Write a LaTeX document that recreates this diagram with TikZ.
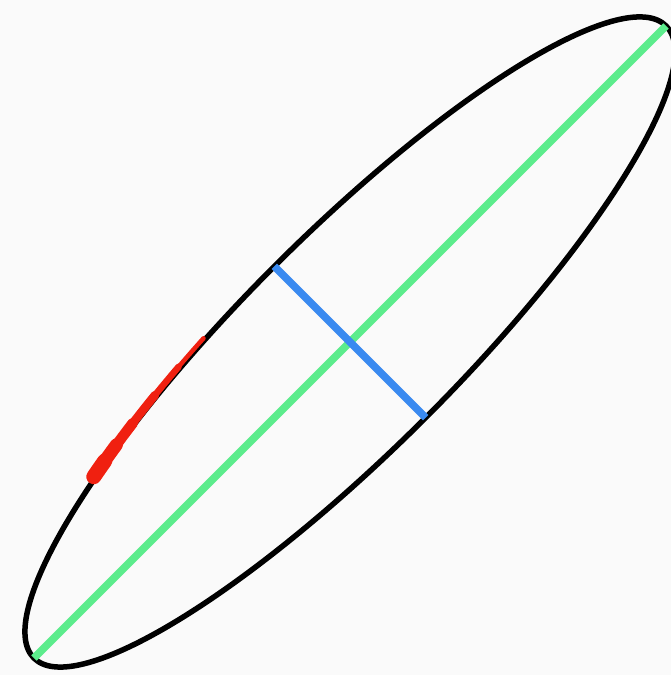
\documentclass[tikz,border=0pt]{standalone}
\usepackage{tikz}
\definecolor{majgreen}{RGB}{92,236,140}
\definecolor{minblue}{RGB}{58,138,240}
\definecolor{arcred}{RGB}{240,32,16}
\tikzset{
  rim/.style={line width=0.11cm,color=black},
  majline/.style={line width=0.15cm,color=majgreen},
  minline/.style={line width=0.15cm,color=minblue},
  redarc/.style={color=arcred,line cap=round}
}
\begin{document}
\begin{tikzpicture}[x=0.02cm,y=0.02cm]
        \useasboundingbox[fill=white!98!black] (0,0) rectangle (671,675);
        \coordinate (c) at (350,333);
        \begin{scope}[shift={(c)},rotate=45]
                \coordinate (majA) at (-447,0);
                \coordinate (majB) at (447,0);
                \coordinate (minA) at (0,107);
                \coordinate (minB) at (0,-107);
                \draw[rim] (0,0) ellipse [x radius=447, y radius=107];
                \draw[majline] (majA) -- (majB);
                \draw[minline] (minA) -- (minB);
                % red stroke, thicker at its lower end
                \foreach \e/\w in {103/0.09,108/0.13,113/0.17,118/0.21,122/0.26,125/0.3} {
                        \draw[redarc,line width=\w cm] (128:449 and 109) arc [start angle=128, end angle=\e, x radius=449, y radius=109];
                }
        \end{scope}
\end{tikzpicture}
\end{document}
